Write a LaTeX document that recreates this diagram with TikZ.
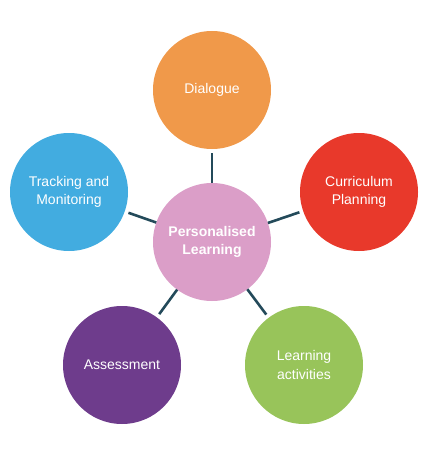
\documentclass[tikz,border=0pt]{standalone}
\usepackage{fontspec}
\setmainfont{Liberation Sans}
\definecolor{cDia}{HTML}{F0994A}
\definecolor{cCur}{HTML}{E8392B}
\definecolor{cLea}{HTML}{98C45A}
\definecolor{cAss}{HTML}{6E3C8C}
\definecolor{cTra}{HTML}{42ACE0}
\definecolor{cPer}{HTML}{DB9EC8}
\definecolor{cLine}{HTML}{234A5A}
\begin{document}
\begin{tikzpicture}[x=1pt,y=-1pt,
  bubble/.style={circle,minimum size=118pt,inner sep=0pt,outer sep=0pt,text=white,
    font=\fontsize{14}{18.5}\selectfont,align=center},
  link/.style={draw=cLine,line width=2.6pt,shorten >=4pt}]
\useasboundingbox (0,0) rectangle (425,468);
\node[bubble,fill=cPer,font=\fontsize{14}{18.5}\selectfont\bfseries] (per) at (212,242) {Personalised\\Learning};
\node[bubble,fill=cDia] (dia) at (212,90) {Dialogue};
\node[bubble,fill=cCur] (cur) at (359,192) {Curriculum\\Planning};
\node[bubble,fill=cLea] (lea) at (304,365) {Learning\\activities};
\node[bubble,fill=cAss] (ass) at (122,365) {Assessment};
\node[bubble,fill=cTra] (tra) at (69,192) {Tracking and\\Monitoring};
\draw[link] (per) -- (dia);
\draw[link] (per) -- (cur);
\draw[link] (per) -- (lea);
\draw[link] (per) -- (ass);
\draw[link] (per) -- (tra);
\end{tikzpicture}
\end{document}
